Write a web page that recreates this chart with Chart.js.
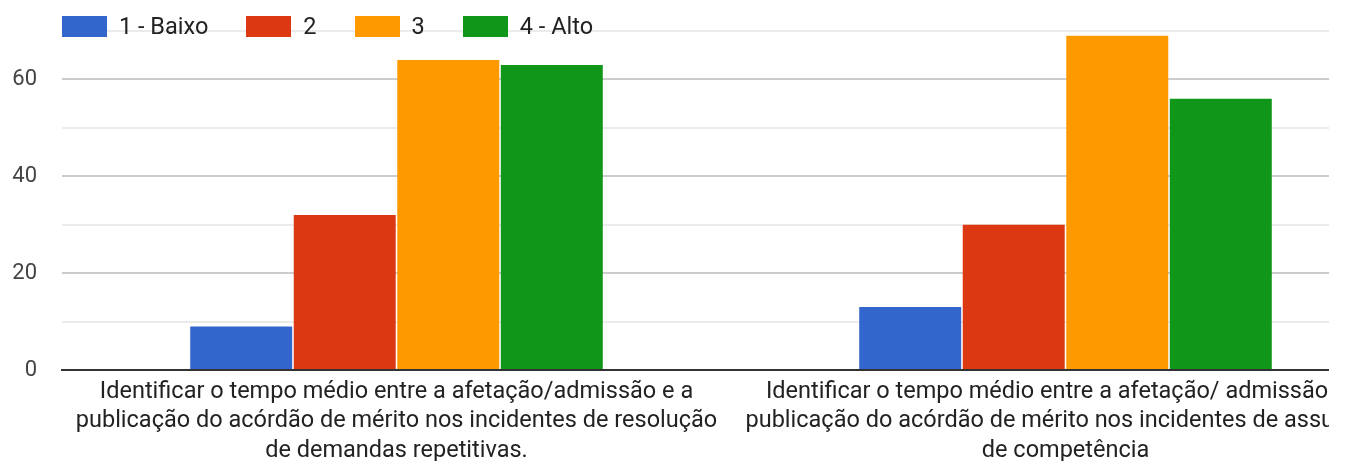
<!DOCTYPE html>
<html>
<head>
<meta charset="utf-8">
<script src="https://cdn.jsdelivr.net/npm/chart.js@4/dist/chart.umd.min.js"></script>
<style>
  html, body { margin: 0; padding: 0; background: #fff; }
  #clip { position: absolute; left: 0; top: 0; width: 1329px; height: 461px; overflow: hidden; }
  #wrap { position: absolute; left: 0; top: 0; width: 1400px; height: 461px; }
  #legend { position: absolute; left: 62px; top: 16px; display: flex; align-items: center;
            font-family: Roboto, Arial, sans-serif; font-size: 23.5px; color: #222; }
  #legend .item { display: flex; align-items: center; margin-right: 38px; }
  #legend .box { width: 45px; height: 21px; margin-right: 12px; }
  #legend .txt { line-height: 21px; white-space: nowrap; }
</style>
</head>
<body>
<div id="clip">
  <div id="wrap"><canvas id="c"></canvas></div>
  <div id="legend"></div>
</div>
<script>
const categories = [
  ["Identificar o tempo médio entre a afetação/admissão e a",
   "publicação do acórdão de mérito nos incidentes de resolução",
   "de demandas repetitivas."],
  ["Identificar o tempo médio entre a afetação/ admissão e a",
   "publicação do acórdão de mérito nos incidentes de assunção",
   "de competência"]
];
const seriesNames = ["1 - Baixo", "2", "3", "4 - Alto"];
const baixo = [9, 13];
const nivel2 = [32, 30];
const nivel3 = [64, 69];
const alto = [63, 56];
const colors = ["#3366cc", "#dc3912", "#ff9900", "#109618"];
const yTicks = [0, 20, 40, 60];

const seriesValues = [baixo, nivel2, nivel3, alto];
const datasets = seriesNames.map((n, i) => ({
  label: n,
  data: seriesValues[i],
  backgroundColor: colors[i],
  borderWidth: 0,
  categoryPercentage: 0.619,
  barPercentage: 0.985
}));

const legend = document.getElementById('legend');
seriesNames.forEach((n, i) => {
  const it = document.createElement('div'); it.className = 'item';
  const b = document.createElement('div'); b.className = 'box'; b.style.background = colors[i];
  const t = document.createElement('div'); t.className = 'txt'; t.textContent = n;
  it.appendChild(b); it.appendChild(t); legend.appendChild(it);
});

new Chart(document.getElementById('c'), {
  type: 'bar',
  data: { labels: categories, datasets },
  options: {
    responsive: true,
    maintainAspectRatio: false,
    animation: false,
    layout: { padding: { top: 31, right: 0, left: 0, bottom: 0 } },
    plugins: { legend: { display: false }, tooltip: { enabled: false } },
    scales: {
      x: {
        grid: { display: false, drawTicks: false },
        border: { display: true, color: '#333', width: 2 },
        ticks: {
          maxRotation: 0, autoSkip: false, padding: 7,
          color: '#222',
          font: { family: 'Roboto', size: 23.5, lineHeight: 1.26 }
        },
        afterFit: s => { s.height = 91; s.paddingLeft = 0; s.paddingRight = 0; }
      },
      y: {
        min: 0, max: 70,
        border: { display: false },
        grid: {
          drawTicks: false,
          color: c => c.tick.value === 0 ? '#333' : (yTicks.includes(c.tick.value) ? '#cccccc' : '#ebebeb'),
          lineWidth: 2
        },
        ticks: {
          stepSize: 10, padding: 25, color: '#444',
          font: { family: 'Roboto', size: 22 },
          callback: v => yTicks.includes(v) ? String(v) : ''
        },
        afterFit: s => { s.width = 62; s.paddingTop = 0; s.paddingBottom = 0; }
      }
    }
  }
});
</script>
</body>
</html>
